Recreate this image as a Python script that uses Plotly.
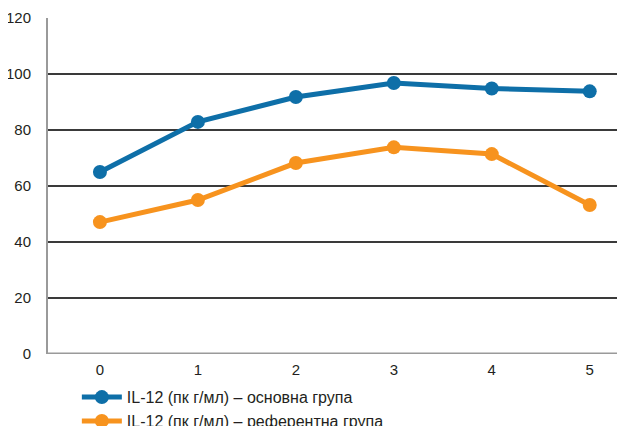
import plotly.graph_objects as go

categories = ["0", "1", "2", "3", "4", "5"]
main_group = [65, 82.9, 91.8, 96.8, 94.8, 93.8]
reference_group = [47.1, 55, 68.2, 73.8, 71.4, 53.2]
names = ["IL-12 (пк г/мл) – основна група", "IL-12 (пк г/мл) – референтна група"]
colors = ["#0e6fa8", "#f7931e"]
y_ticks = [0, 20, 40, 60, 80, 100, 120]

xs = list(range(len(categories)))
fig = go.Figure()
for vals, name, col in [(main_group, names[0], colors[0]), (reference_group, names[1], colors[1])]:
    fig.add_trace(go.Scatter(
        x=xs, y=vals, name=name, mode="lines+markers",
        line=dict(color=col, width=5),
        marker=dict(color=col, size=14),
    ))

fig.update_layout(
    width=625, height=426,
    margin=dict(l=40, r=8, t=10, b=80, autoexpand=False),
    paper_bgcolor="white", plot_bgcolor="white",
    font=dict(family="Liberation Sans, Arial, sans-serif", size=15, color="#231f20"),
    showlegend=True,
    legend=dict(
        orientation="v", x=0.05, y=-0.078, xanchor="left", yanchor="top",
        font=dict(size=16, color="#231f20"), tracegroupgap=0, itemwidth=40,
        bgcolor="rgba(0,0,0,0)",
    ),
    xaxis=dict(
        range=[-0.53, 5.36], tickvals=xs, ticktext=categories, automargin=False,
        showgrid=False, zeroline=False, showline=False, ticks="",
        tickfont=dict(size=15), ticklabelstandoff=5,
    ),
    yaxis=dict(
        range=[0, 120], tickvals=y_ticks, showgrid=True, gridcolor="#3a3a3a", gridwidth=1.5,
        zeroline=False, showline=True, linecolor="#9a9a9a", linewidth=2, automargin=False,
        ticks="", tickfont=dict(size=15), ticklabelstandoff=12,
    ),
)
fig.add_hline(y=0, line=dict(color="#9a9a9a", width=3))
fig.write_html("out.html")
